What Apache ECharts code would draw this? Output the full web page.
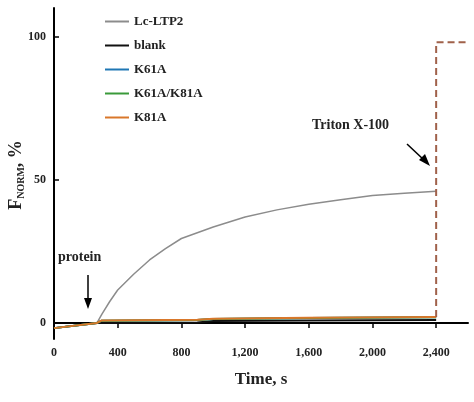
<!DOCTYPE html><html><head><meta charset="utf-8">
<script src="https://cdn.jsdelivr.net/npm/echarts@6/dist/echarts.min.js"></script>
<style>html,body{margin:0;background:#fff}#c{width:474px;height:402px}</style></head><body><div id="c"></div>
<script>
const seriesNames=['Lc-LTP2','blank','K61A','K61A/K81A','K81A'];
const colors=['#8c8c8c','#111111','#1f77b4','#3a9a3a','#d9772a'];
const ltp2=[[0,-1.8],[270,0],[300,3],[350,7.5],[400,11.5],[500,17],[600,22],[700,26],[800,29.5],[1000,33.5],[1200,37],[1400,39.5],[1600,41.5],[1800,43],[2000,44.5],[2200,45.3],[2400,46]];
const blank=[[0,-1.8],[270,0],[900,0.2],[1000,0.7],[1600,0.9],[2400,1]];
const k61a=[[0,-1.8],[270,0],[300,0.8],[900,1],[1000,1.4],[1600,1.7],[2400,2]];
const k61ak81a=[[0,-1.8],[270,0],[300,0.8],[900,1],[1000,1.4],[1600,1.7],[2400,2]];
const k81a=[[0,-1.8],[270,0],[300,0.9],[900,1.1],[1000,1.5],[1600,1.8],[2400,2.1]];
const triton=[[2400,2.1],[2400,98],[2600,98]];
const xTicks=[0,400,800,1200,1600,2000,2400];
const yTicks=[0,50,100];
const F='"Liberation Serif","DejaVu Serif",serif';
const chart=echarts.init(document.getElementById('c'));
const mk=(n,d,c,w)=>({name:n,type:'line',data:d,showSymbol:false,symbol:'none',lineStyle:{color:c,width:w},itemStyle:{color:c}});
chart.setOption({
animation:false,
grid:{left:54,right:6,top:8,bottom:63},
legend:{orient:'vertical',left:100,top:10,itemGap:11,itemWidth:24,itemHeight:2,icon:'rect',
 textStyle:{fontFamily:F,fontWeight:'bold',fontSize:13,color:'#222'},data:seriesNames},
xAxis:{type:'value',min:0,max:2600,
 axisLine:{lineStyle:{color:'#000',width:2}},axisTick:{customValues:xTicks,length:5,lineStyle:{color:'#000',width:1.5}},
 axisLabel:{customValues:xTicks,fontFamily:F,fontWeight:'bold',fontSize:12,color:'#222'},splitLine:{show:false},
 name:'Time, s',nameLocation:'middle',nameGap:32,nameTextStyle:{fontFamily:F,fontWeight:'bold',fontSize:17,color:'#222'}},
yAxis:{type:'value',min:-5.6,max:110,
 axisLine:{show:true,lineStyle:{color:'#000',width:2}},axisTick:{show:true,customValues:yTicks,length:5,inside:true,lineStyle:{color:'#000',width:1.5}},
 axisLabel:{customValues:yTicks,fontFamily:F,fontWeight:'bold',fontSize:12,color:'#222'},splitLine:{show:false}},
graphic:[
 {type:'text',rotation:Math.PI/2,x:16,y:175,z:10,style:{text:'{a|F}{b|NORM}{a|, %}',align:'center',verticalAlign:'middle',
   rich:{a:{fontFamily:F,fontWeight:'bold',fontSize:18,fill:'#222'},b:{fontFamily:F,fontWeight:'bold',fontSize:10,fill:'#222',padding:[10,0,0,0]}}}},
 {type:'text',x:58,y:250,style:{text:'protein',fontFamily:F,fontWeight:'bold',fontSize:14,fill:'#222'}},
 {type:'line',shape:{x1:88,y1:275,x2:88,y2:302},style:{stroke:'#000',lineWidth:1.5}},
 {type:'polygon',shape:{points:[[84,298],[92,298],[88,309]]},style:{fill:'#000'}},
 {type:'text',x:312,y:118,style:{text:'Triton X-100',fontFamily:F,fontWeight:'bold',fontSize:14,fill:'#222'}},
 {type:'line',shape:{x1:407,y1:144,x2:424,y2:160},style:{stroke:'#000',lineWidth:1.5}},
 {type:'polygon',shape:{points:[[419,160],[425,154],[430,166]]},style:{fill:'#000'}}
],
series:[
 mk('Lc-LTP2',ltp2,colors[0],1.5),
 mk('blank',blank,colors[1],2),
 mk('K61A',k61a,colors[2],2),
 mk('K61A/K81A',k61ak81a,colors[3],2),
 mk('K81A',k81a,colors[4],2),
 {type:'line',data:triton,showSymbol:false,symbol:'none',lineStyle:{color:'#a0614a',width:2,type:[7,4]},silent:true}
]});
</script></body></html>
